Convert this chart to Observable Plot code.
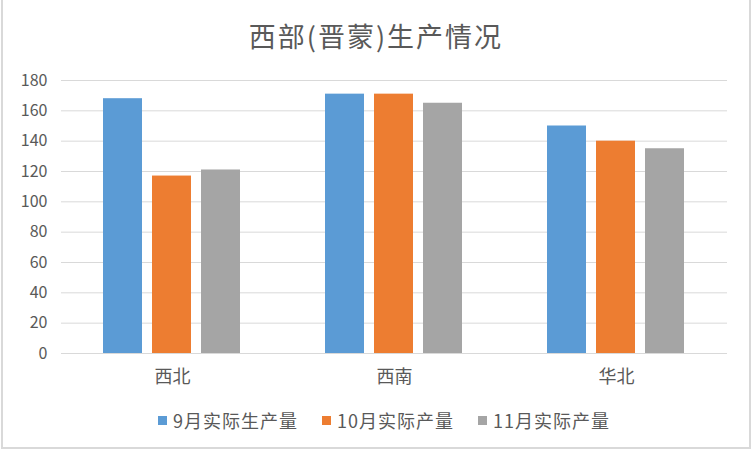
<!DOCTYPE html>
<html>
<head>
<meta charset="utf-8">
<script src="https://cdn.jsdelivr.net/npm/d3@7"></script>
<script src="https://cdn.jsdelivr.net/npm/@observablehq/plot@0.6"></script>
<style>
  html, body { margin: 0; padding: 0; background: #fff; }
  #wrap { position: relative; width: 752px; height: 452px; overflow: hidden; font-family: "Noto Sans CJK SC", "Noto Sans", sans-serif; color: #595959; }
  #frame { position: absolute; left: 1px; top: 0; width: 750px; height: 449px; box-sizing: border-box; border: 2px solid #d9d9d9; border-top: none; pointer-events: none; }
  #title { position: absolute; left: 0; top: 18px; width: 752px; height: 36px; line-height: 36px; text-align: center; font-size: 27px; letter-spacing: 2px; }
  #chart { position: absolute; left: 0; top: 60px; }
  #legend { position: absolute; left: 8px; top: 408px; width: 752px; height: 24px; display: flex; justify-content: center; align-items: center; font-size: 18px; letter-spacing: 1px; }
  .item { display: flex; align-items: center; margin: 0 12px; }
  .sw { width: 9px; height: 9px; margin-right: 6px; }
</style>
</head>
<body>
<div id="wrap">
  <div id="title">西部(晋蒙)生产情况</div>
  <div id="chart"></div>
  <div id="legend"></div>
  <div id="frame"></div>
</div>
<script>
const regions = ["西北", "西南", "华北"];
const series = ["9月实际生产量", "10月实际产量", "11月实际产量"];
const sep = [168, 171, 150];
const oct = [117, 171, 140];
const nov = [121, 165, 135];
const yTicks = [0, 20, 40, 60, 80, 100, 120, 140, 160, 180];
const colors = ["#5b9bd5", "#ed7d31", "#a5a5a5"];

const valuesBySeries = [sep, oct, nov];
const data = [];
regions.forEach((r, i) => {
  series.forEach((s, j) => data.push({region: r, series: s, value: valuesBySeries[j][i]}));
});

const chart = Plot.plot({
  width: 752,
  height: 340,
  marginTop: 20,
  marginBottom: 47,
  marginLeft: 60,
  marginRight: 24,
  style: {fontFamily: "'Noto Sans CJK SC', 'Noto Sans', sans-serif", color: "#595959", background: "transparent"},
  fx: {domain: regions, padding: 0, label: null},
  x: {domain: series, paddingInner: 0.2, paddingOuter: 0.83, axis: null},
  y: {domain: [0, 180], label: null},
  color: {domain: series, range: colors},
  marks: [
    Plot.ruleY(yTicks, {stroke: "#d9d9d9", strokeWidth: 1}),
    Plot.barY(data, {fx: "region", x: "series", y: "value", fill: "series"}),
    Plot.axisY({ticks: yTicks, tickSize: 0, tickPadding: 14, fontSize: 16, fill: "#595959", label: null}),
    Plot.axisFx({anchor: "bottom", tickSize: 0, tickPadding: 17, fontSize: 18, fill: "#595959", label: null})
  ]
});
document.getElementById("chart").appendChild(chart);

const legend = document.getElementById("legend");
series.forEach((s, i) => {
  const it = document.createElement("div");
  it.className = "item";
  const sw = document.createElement("div");
  sw.className = "sw";
  sw.style.background = colors[i];
  const tx = document.createElement("span");
  tx.textContent = s;
  it.appendChild(sw);
  it.appendChild(tx);
  legend.appendChild(it);
});
</script>
</body>
</html>
